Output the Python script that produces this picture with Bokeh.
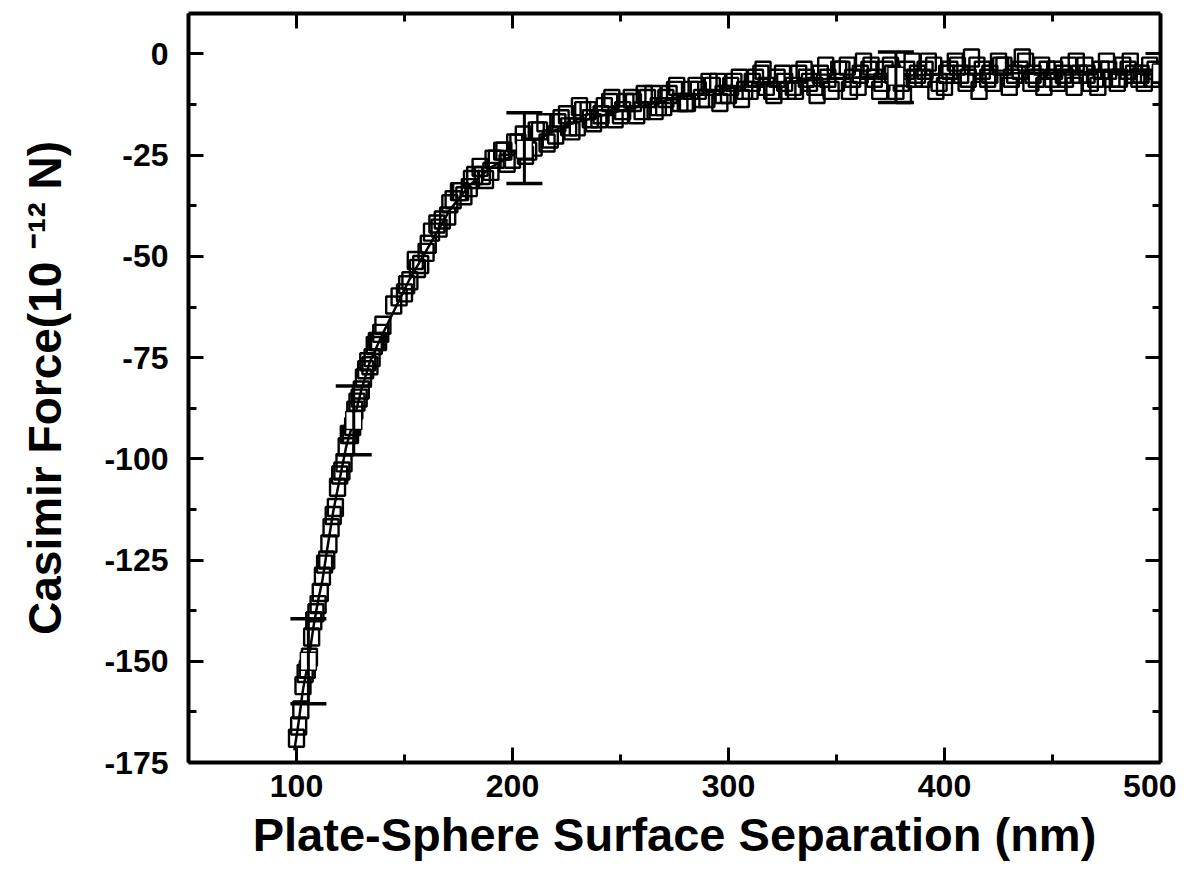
from bokeh.plotting import figure
from bokeh.models import Range1d, LinearAxis, Whisker, TeeHead, ColumnDataSource, FixedTicker, CustomLabelingPolicy
from bokeh.embed import file_html
from bokeh.resources import INLINE

# ---- data ----
run_a_x = [100, 102, 104, 106, 108, 110, 112, 114, 116, 118, 120, 122, 124, 126, 128, 130, 132, 134, 136, 138, 140,
           145, 150, 155, 160, 165, 170, 175, 180, 185, 190, 195, 200, 205, 210, 215, 220, 225, 230, 235, 240,
           245, 250, 255, 260, 265, 270, 275, 280, 285, 290, 295, 300, 305, 310, 315, 320, 325, 330, 335, 340,
           345, 350, 355, 360, 365, 370, 375, 380, 385, 390, 395, 400, 405, 410, 415, 420, 425, 430, 435, 440,
           445, 450, 455, 460, 465, 470, 475, 480, 485, 490, 495, 500]
run_a_y = [-169, -162, -153, -149, -140, -136, -129, -125, -117, -112, -104, -101, -94, -92, -86, -83, -78, -77, -72, -71, -67,
           -62, -59, -51, -49, -42, -40, -34, -33, -28, -29, -24, -26, -20, -23, -17, -20, -15, -18, -14, -16,
           -12, -15, -11, -14, -10, -13, -9, -12, -8, -11, -7, -10, -6, -9, -5, -9, -5, -8, -4, -8,
           -3, -7, -3, -8, -4, -9, -3, -7, -2, -6, -3, -8, -2, -7, -3, -6, -2, -8, -4, -7,
           -3, -6, -5, -8, -3, -6, -2, -7, -4, -6, -3, -5]

run_b_x = [101, 103, 105, 107, 109, 111, 113, 115, 117, 119, 121, 123, 125, 127, 129, 131, 133, 135, 137, 139,
           147.5, 152.5, 157.5, 162.5, 167.5, 172.5, 177.5, 182.5, 187.5, 192.5, 197.5, 202.5, 207.5, 212.5,
           217.5, 222.5, 227.5, 232.5, 237.5, 242.5, 247.5, 252.5, 257.5, 262.5, 267.5, 272.5, 277.5, 282.5,
           287.5, 292.5, 297.5, 302.5, 307.5, 312.5, 317.5, 322.5, 327.5, 332.5, 337.5, 342.5, 347.5, 352.5,
           357.5, 362.5, 367.5, 372.5, 377.5, 382.5, 387.5, 392.5, 397.5, 402.5, 407.5, 412.5, 417.5, 422.5,
           427.5, 432.5, 437.5, 442.5, 447.5, 452.5, 457.5, 462.5, 467.5, 472.5, 477.5, 482.5, 487.5, 492.5, 497.5]
run_b_y = [-166, -156, -152, -144, -138, -133, -126, -121, -114, -107, -103, -97, -94, -88, -85, -80, -76, -75, -71, -69,
           -60, -56, -52, -44, -41, -36, -35, -30, -31, -26, -27, -22, -24, -19,
           -21, -16, -19, -14, -17, -13, -16, -12, -15, -11, -13, -10, -12, -9,
           -11, -8, -10, -7, -9, -6, -8, -6, -9, -5, -7, -5, -9, -4,
           -6, -2, -6, -4, -9, -4, -5, -2, -7, -4, -5, -1, -4, -7,
           -3, -5, -2, -6, -4, -7, -3, -5, -7, -4, -6, -3, -5, -7, -4]

run_c_x = [151, 156, 161, 166, 171, 176, 181, 186, 191, 196, 201, 206, 211, 216, 221, 226, 231, 236, 241, 246,
           251, 256, 261, 266, 271, 276, 281, 286, 291, 296, 301, 306, 311, 316, 321, 326, 331, 336, 341, 346,
           351, 356, 361, 366, 371, 376, 381, 386, 391, 396, 401, 406, 411, 416, 421, 426, 431, 436, 441, 446,
           451, 456, 461, 466, 471, 476, 481, 486, 491, 496]
run_c_y = [-57, -53, -47, -43, -37, -34, -31, -30, -26, -24, -22, -25, -19, -22, -17, -18, -13, -16, -15, -11,
           -14, -12, -10, -14, -11, -8, -12, -9, -7, -12, -8, -11, -7, -4, -10, -7, -9, -6, -10, -6,
           -4, -9, -5, -3, -7, -5, -10, -6, -4, -9, -5, -3, -6, -9, -5, -3, -6, -1, -5, -8,
           -4, -6, -2, -5, -8, -4, -6, -2, -5, -6]

theory_x = [99, 101, 103, 105.5, 108, 110, 112, 114, 117, 120, 123, 126.5, 130, 134, 140, 146, 152, 158, 164, 171,
            180, 190, 200, 210, 225, 250, 275, 300, 325, 350, 375, 400, 425, 450, 475, 500]
theory_y = [-172, -165, -157, -150, -141, -135, -130, -123, -113, -105, -97, -90.5, -83, -76, -69, -62.5, -56, -50.5, -45, -38.5,
            -32.5, -28, -25, -21.5, -17.5, -14, -11, -8.5, -7, -6, -5.5, -5, -4.8, -4.6, -4.4, -4.3]

err_x = [105.5, 126.5, 205.5, 377.5]
err_lo = [-160.5, -99, -32, -12]
err_hi = [-139.5, -82, -14.5, 0.5]

marked_x = [105.5, 126.5, 205.5, 377.5, 500]
marked_y = [-150, -90.5, -23.5, -5.5, -4.7]

x_ticks = [100, 200, 300, 400, 500]
x_minor = [50, 150, 250, 350, 450]
x_tick_labels = ["100", "200", "300", "400", "500"]
y_ticks = [0, -25, -50, -75, -100, -125, -150, -175]
y_minor = [-12.5, -37.5, -62.5, -87.5, -112.5, -137.5, -162.5]
y_tick_labels = ["0", "-25", "-50", "-75", "-100", "-125", "-150", "-175"]

x_title = "Plate-Sphere Surface Separation (nm)"
y_title = "Casimir Force(10 \u207b\u00b9\u00b2 N)"

FONT = "Liberation Sans"

p = figure(width=1176, height=864, x_range=Range1d(50, 500), y_range=Range1d(-175, 10),
           output_backend="svg", toolbar_location=None,
           min_border_left=188, min_border_right=16, min_border_top=13, min_border_bottom=102)
p.grid.visible = False
p.outline_line_color = None
p.background_fill_color = "white"
p.border_fill_color = "white"

bottom_axis = p.below[0]
left_axis = p.left[0]
top_axis = LinearAxis()
right_axis = LinearAxis()
p.add_layout(top_axis, "above")
p.add_layout(right_axis, "right")

xt = FixedTicker(ticks=x_ticks, minor_ticks=x_minor)
yt = FixedTicker(ticks=y_ticks, minor_ticks=y_minor)

for ax, tk in [(bottom_axis, xt), (top_axis, xt), (left_axis, yt), (right_axis, yt)]:
    ax.ticker = tk
    ax.axis_line_width = 4
    ax.axis_line_color = "black"
    ax.major_tick_in = 15
    ax.major_tick_out = 0
    ax.minor_tick_in = 8
    ax.minor_tick_out = 0
    ax.major_tick_line_width = 3
    ax.minor_tick_line_width = 3
    ax.major_label_text_font = FONT
    ax.major_label_text_font_style = "bold"
    ax.major_label_text_color = "black"
    ax.major_label_text_font_size = "32px"

hide_all = CustomLabelingPolicy(code="for (const i of indices) { indices.unset(i) } return indices")
for ax in (top_axis, right_axis):
    ax.major_label_policy = hide_all
    ax.major_label_standoff = 0
    ax.major_label_text_font_size = "1px"

bottom_axis.major_label_overrides = dict(zip(x_ticks, x_tick_labels))
bottom_axis.major_label_standoff = 12
bottom_axis.axis_label = x_title
bottom_axis.axis_label_text_font = FONT
bottom_axis.axis_label_text_font_style = "bold"
bottom_axis.axis_label_text_font_size = "47px"
bottom_axis.axis_label_text_color = "black"
bottom_axis.axis_label_standoff = 8

left_axis.major_label_overrides = dict(zip(y_ticks, y_tick_labels))
left_axis.major_label_standoff = 20
left_axis.axis_label = y_title
left_axis.axis_label_text_font = FONT
left_axis.axis_label_text_font_style = "bold"
left_axis.axis_label_text_font_size = "46px"
left_axis.axis_label_text_color = "black"
left_axis.axis_label_standoff = 30

p.line(theory_x, theory_y, line_width=2.5, line_color="black")

for xs, ys in [(run_a_x, run_a_y), (run_b_x, run_b_y), (run_c_x, run_c_y)]:
    p.rect(xs, ys, width=15, height=17, width_units="screen", height_units="screen",
           fill_color=None, line_color="black", line_width=2.4)

src = ColumnDataSource(dict(x=err_x, lo=err_lo, hi=err_hi))
w = Whisker(base="x", lower="lo", upper="hi", source=src, dimension="height",
            line_width=3, line_color="black",
            upper_head=TeeHead(size=36, line_width=3.5, line_color="black"),
            lower_head=TeeHead(size=36, line_width=3.5, line_color="black"))
w.level = "glyph"
p.add_layout(w)

p.rect(marked_x, marked_y, width=16, height=18, width_units="screen", height_units="screen",
       fill_color="white", line_color="black", line_width=1.5)

open("out.html", "w").write(file_html(p, INLINE))
